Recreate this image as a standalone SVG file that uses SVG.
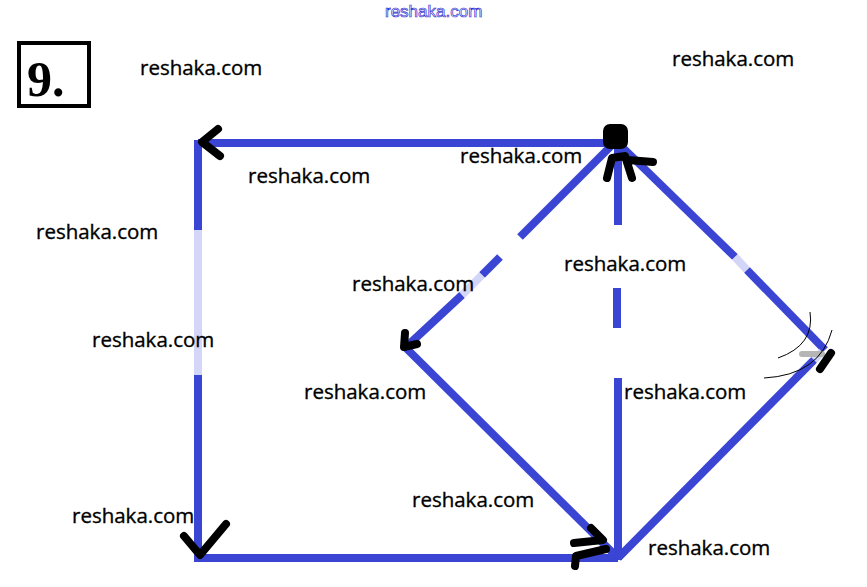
<svg xmlns="http://www.w3.org/2000/svg" width="867" height="587" viewBox="0 0 867 587">
<style>
.lbl{font-family:"Open Sans","Noto Sans","Liberation Sans",sans-serif;font-size:20.5px;fill:#000;stroke:#000;stroke-width:0.35}
.edge{stroke:#3b45d4;stroke-width:8;fill:none;stroke-linecap:butt}
.pale{stroke:#d3d6f6;stroke-width:8;fill:none}
.head{stroke:#000;stroke-width:8;fill:none;stroke-linecap:round;stroke-linejoin:round}
</style>
<rect width="867" height="587" fill="#fff"/>
<text x="385" y="17" font-family="'Liberation Sans',Arial,sans-serif" font-size="17" fill="#fff" stroke="#3030d0" stroke-width="0.7">reshaka.com</text>
<g id="number">
<rect x="19" y="43" width="70" height="63" fill="none" stroke="#000" stroke-width="4"/>
<text x="27" y="96" font-family="'Liberation Serif','Times New Roman',serif" font-weight="bold" font-size="50" fill="#000">9.</text>
</g>
<g id="connectors">
<line class="edge" x1="198" y1="143" x2="612" y2="143"/>
<line class="edge" x1="198" y1="140" x2="198" y2="230"/>
<line class="pale" x1="198" y1="230" x2="198" y2="375"/>
<line class="edge" x1="198" y1="375" x2="198" y2="562"/>
<line class="edge" x1="194" y1="558" x2="618" y2="558"/>
<line class="edge" x1="618" y1="142" x2="618" y2="225"/>
<line class="edge" x1="617" y1="288" x2="617" y2="328"/>
<line class="edge" x1="618" y1="378" x2="618" y2="560"/>
<line class="edge" x1="612" y1="145" x2="520" y2="237"/>
<line class="edge" x1="500" y1="257" x2="482" y2="275"/>
<line class="pale" x1="482" y1="275" x2="462" y2="295"/>
<line class="edge" x1="462" y1="295" x2="405" y2="348"/>
<line class="edge" x1="405" y1="347" x2="618" y2="558"/>
<line class="edge" x1="620" y1="145" x2="735" y2="257"/>
<line class="pale" x1="735" y1="257" x2="747" y2="270"/>
<line class="edge" x1="747" y1="270" x2="825" y2="350"/>
<line class="pale" x1="822" y1="352" x2="795" y2="378"/>
<line class="edge" x1="814" y1="360" x2="618" y2="558"/>
</g>
<g id="node-apex">
<rect x="603" y="124" width="25" height="25" rx="7" fill="#000"/>
<path class="head" d="M607,178 L612,158 L625,156 L632,178 M628,160 L653,162"/>
</g>
<g id="node-top-left">
<path class="head" d="M218,129 L202,142 L220,156"/>
</g>
<g id="node-bottom-left">
<path class="head" d="M184,536 L200,555 L226,524"/>
</g>
<g id="node-bottom">
<path class="head" d="M591,528 L603,540 L574,543 M606,549 L576,556 L575,566"/>
</g>
<g id="node-left">
<path class="head" d="M405,333 L404,347 L417,344"/>
</g>
<g id="node-right">
<path d="M802,354 L822,354" stroke="#b5b5b5" stroke-width="6" stroke-linecap="round"/>
<path class="head" d="M831,353 L820,369"/>
<path d="M810,312 Q815,345 778,358 M832,330 Q820,375 764,378" stroke="#000" stroke-width="1" fill="none"/>
</g>
<g id="labels">
<text class="lbl" x="140" y="75">reshaka.com</text>
<text class="lbl" x="672" y="66">reshaka.com</text>
<text class="lbl" x="460" y="163">reshaka.com</text>
<text class="lbl" x="248" y="183">reshaka.com</text>
<text class="lbl" x="36" y="239">reshaka.com</text>
<text class="lbl" x="564" y="271">reshaka.com</text>
<text class="lbl" x="352" y="291">reshaka.com</text>
<text class="lbl" x="92" y="347">reshaka.com</text>
<text class="lbl" x="304" y="399">reshaka.com</text>
<text class="lbl" x="624" y="399">reshaka.com</text>
<text class="lbl" x="412" y="507">reshaka.com</text>
<text class="lbl" x="72" y="523">reshaka.com</text>
<text class="lbl" x="648" y="555">reshaka.com</text>
</g>
</svg>
